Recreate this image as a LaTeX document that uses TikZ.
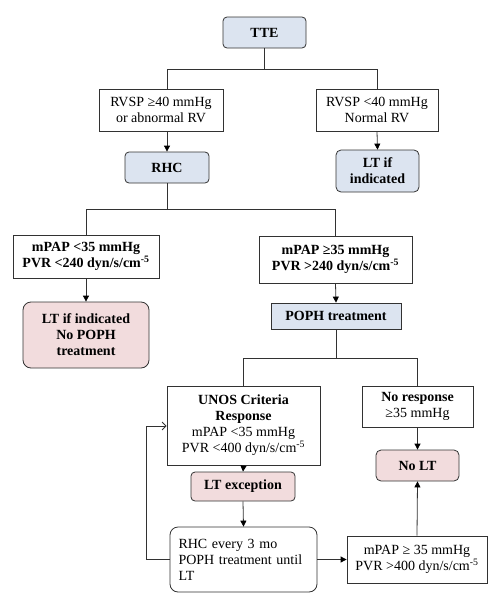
\documentclass[tikz,border=0pt]{standalone}
\usepackage{fontspec}
\setmainfont{Liberation Serif}
\usetikzlibrary{arrows.meta}
\definecolor{boxblue}{RGB}{220,228,240}
\definecolor{boxpink}{RGB}{242,220,221}
\definecolor{edgegray}{RGB}{50,50,50}

\begin{document}
\begin{tikzpicture}[x=1pt,y=-1pt]
  \tikzset{every path/.style={line width=.8pt},
    box/.style={draw=edgegray,fill=white,align=center,inner sep=2pt,
      font=\fontsize{14}{16}\selectfont},
    blue/.style={box,fill=boxblue,font=\fontsize{14}{16}\selectfont\bfseries},
    pink/.style={box,fill=boxpink,font=\fontsize{14}{16}\selectfont\bfseries},
    link/.style={draw=edgegray},
    arr/.style={edgegray,-{Triangle[length=6pt,width=6pt,black]}},
    back/.style={edgegray,-{Straight Barb[length=4pt,width=8pt]}}}
  \useasboundingbox (0,0) rectangle (499,605);
  % top part
  \node[blue,rounded corners=4pt,minimum width=83,minimum height=31] (tte) at (264.5,32.5) {TTE};
  \node[box,minimum width=124,minimum height=42] (rvspHi) at (161,110) {RVSP ≥40 mmHg\\or abnormal RV};
  \node[box,minimum width=122,minimum height=42] (rvspLo) at (377,110) {RVSP <40 mmHg\\Normal RV};
  \node[blue,rounded corners=4pt,minimum width=84,minimum height=31] (rhc) at (167,167.5) {RHC};
  \node[blue,rounded corners=5pt,minimum width=83,minimum height=42] (ltInd) at (377.5,171) {LT if\\indicated};
  % after RHC
  \node[box,font=\fontsize{14}{16}\selectfont\bfseries,minimum width=146,minimum height=43] (mpapLo) at (86,256.5) {mPAP <35 mmHg\\PVR <240 dyn/s/cm\textsuperscript{-5}};
  \node[box,font=\fontsize{14}{16}\selectfont\bfseries,minimum width=153,minimum height=47] (mpapHi) at (335.5,259.5) {mPAP ≥35 mmHg\\PVR >240 dyn/s/cm\textsuperscript{-5}};
  \node[pink,rounded corners=8pt,minimum width=126,minimum height=66] (ltNoPoph) at (86,335) {LT if indicated\\No POPH\\treatment};
  \node[blue,minimum width=130,minimum height=26] (poph) at (336,316) {POPH treatment};
  % treatment outcome
  \node[box,minimum width=153,minimum height=79] (unos) at (243.5,425.5) {\textbf{UNOS Criteria}\\\textbf{Response}\\mPAP <35 mmHg\\PVR <400 dyn/s/cm\textsuperscript{-5}};
  \node[box,minimum width=111,minimum height=41] (noResp) at (417.5,406.5) {\textbf{No response}\\≥35 mmHg};
  \node[pink,rounded corners=5pt,minimum width=83,minimum height=31] (noLT) at (417.5,465.5) {No LT};
  \node[pink,rounded corners=4pt,minimum width=104,minimum height=29] (ltExc) at (243,486.5) {LT exception};
  \node[box,rounded corners=8pt,align=left,text width=130,inner sep=0pt,minimum width=147,minimum height=65] (rhcEvery) at (243.5,559.5) {RHC every 3 mo\\POPH treatment until\\LT};
  \node[box,minimum width=140,minimum height=47] (mpapEnd) at (417,559.5) {mPAP ≥ 35 mmHg\\PVR >400 dyn/s/cm\textsuperscript{-5}};
  % branches
  \coordinate (b1) at (264.5,69);
  \draw[link] (tte) -- (b1);
  \draw[link] (b1) -| (rhc |- rvspHi.north);
  \draw[link] (b1) -| (rvspLo.north);
  \coordinate (b2) at (167,209);
  \draw[link] (rhc) -- (b2);
  \draw[link] (b2) -| (mpapLo.north);
  \draw[link] (b2) -| (mpapHi.north);
  \coordinate (b3) at (336,358);
  \draw[link] (poph) -- (b3);
  \draw[link] (b3) -| (unos.north);
  \draw[link] (b3) -| (noResp.north);
  % arrows
  \draw[arr] (rhc |- rvspHi.south) -- (rhc.north);
  \draw[arr] (rvspLo.south) -- (ltInd.north);
  \draw[arr] (mpapLo.south) -- (ltNoPoph.north);
  \draw[arr] (mpapHi.south) -- (poph.north);
  \draw[arr] (unos.south) -- (ltExc.north);
  \draw[arr] (ltExc.south) -- (rhcEvery.north);
  \draw[arr] (noResp.south) -- (noLT.north);
  \draw[arr] (rhcEvery.east) -- (mpapEnd.west);
  \draw[arr] (mpapEnd.north) -- (noLT.south);
  \coordinate (loop) at (146,426);
  \draw[back] (rhcEvery.west) -| (loop) -- (unos.west |- loop);
\end{tikzpicture}
\end{document}
